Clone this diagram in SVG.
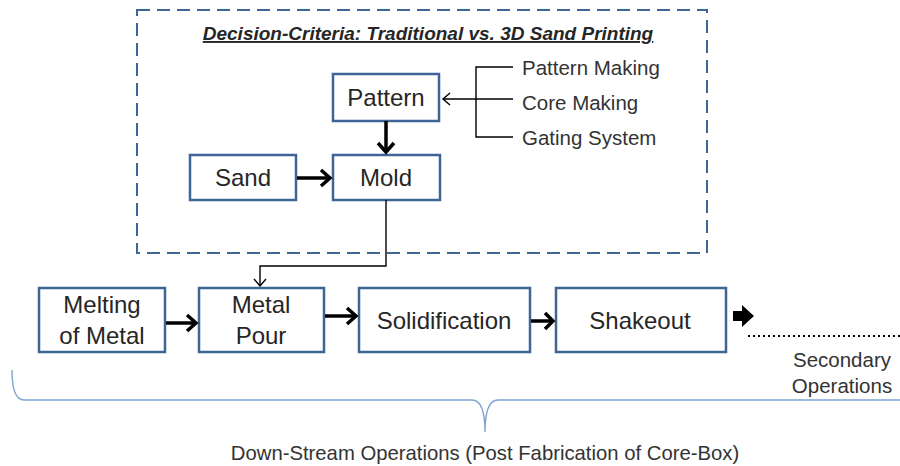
<svg xmlns="http://www.w3.org/2000/svg" width="900" height="466" viewBox="0 0 900 466">
  <style>
    .box { fill: #ffffff; stroke: #3f6596; stroke-width: 2.5; }
    .lbl { font-family: "Liberation Sans", Arial, sans-serif; font-size: 24px; fill: #262626; text-anchor: middle; }
    .sm { font-family: "Liberation Sans", Arial, sans-serif; font-size: 20.5px; fill: #333333; }
    .thick { fill: none; stroke: #000000; stroke-width: 3.5; stroke-linejoin: miter; }
    .thin { fill: none; stroke: #000000; stroke-width: 1.4; }
  </style>

  <!-- decision-criteria frame -->
  <g id="frame">
    <rect x="137" y="10" width="570" height="243" fill="none" stroke="#3f6596" stroke-width="2" stroke-dasharray="13 7"/>
    <text x="428" y="40" font-family="Liberation Sans, Arial, sans-serif" font-size="19px" font-weight="bold" font-style="italic" fill="#262626" text-anchor="middle" text-decoration="underline">Decision-Criteria: Traditional vs. 3D Sand Printing</text>
  </g>

  <g id="pattern">
    <rect class="box" x="333" y="74" width="106" height="47"/>
    <text class="lbl" x="386" y="106">Pattern</text>
  </g>
  <g id="sand">
    <rect class="box" x="190" y="155" width="106" height="45"/>
    <text class="lbl" x="243" y="186">Sand</text>
  </g>
  <g id="mold">
    <rect class="box" x="333" y="155" width="107" height="45"/>
    <text class="lbl" x="386" y="186">Mold</text>
  </g>

  <g id="pattern-inputs">
    <text class="sm" x="522" y="75">Pattern Making</text>
    <text class="sm" x="522" y="110">Core Making</text>
    <text class="sm" x="522" y="145">Gating System</text>
  </g>

  <g id="melting">
    <rect class="box" x="39" y="288" width="126" height="64"/>
    <text class="lbl" x="102" y="313">Melting</text>
    <text class="lbl" x="102" y="344">of Metal</text>
  </g>
  <g id="metal-pour">
    <rect class="box" x="199" y="288" width="125" height="64"/>
    <text class="lbl" x="261" y="313">Metal</text>
    <text class="lbl" x="261" y="344">Pour</text>
  </g>
  <g id="solidification">
    <rect class="box" x="359" y="288" width="171" height="64"/>
    <text class="lbl" x="444" y="329">Solidification</text>
  </g>
  <g id="shakeout">
    <rect class="box" x="556" y="288" width="170" height="64"/>
    <text class="lbl" x="640" y="329">Shakeout</text>
  </g>

  <g id="secondary">
    <text class="sm" x="842" y="367" text-anchor="middle">Secondary</text>
    <text class="sm" x="842" y="393" text-anchor="middle">Operations</text>
  </g>

  <g id="downstream">
    <path d="M12,370 Q12,400 24,400 H472 Q485,400 485,432 Q485,400 498,400 H900" fill="none" stroke="#7ea3d3" stroke-width="1.4"/>
    <text x="485" y="460" font-family="Liberation Sans, Arial, sans-serif" font-size="20.3px" fill="#333333" text-anchor="middle">Down-Stream Operations (Post Fabrication of Core-Box)</text>
  </g>

  <g id="connectors">
    <!-- Pattern to Mold -->
    <line class="thick" x1="386" y1="121" x2="386" y2="152"/>
    <polyline class="thick" points="378,143 386,152 394,143"/>
    <!-- Sand to Mold -->
    <line class="thick" x1="297" y1="178" x2="330" y2="178"/>
    <polyline class="thick" points="321,170 330,178 321,186"/>
    <!-- bracket feeding Pattern -->
    <polyline class="thin" points="513,67 476,67 476,137 513,137"/>
    <line class="thin" x1="476" y1="99" x2="513" y2="99"/>
    <line class="thin" x1="476" y1="99" x2="443" y2="99"/>
    <polyline class="thin" points="450,93 443,99 450,105"/>
    <!-- Mold to Metal Pour -->
    <polyline class="thin" points="386,200 386,266 260,266 260,286"/>
    <polyline class="thin" points="254,279 260,286 266,279"/>
    <!-- bottom chain -->
    <line class="thick" x1="166" y1="323" x2="196" y2="323"/>
    <polyline class="thick" points="187,315 196,323 187,331"/>
    <line class="thick" x1="325" y1="316" x2="356" y2="316"/>
    <polyline class="thick" points="347,308 356,316 347,324"/>
    <line class="thick" x1="531" y1="321" x2="553" y2="321"/>
    <polyline class="thick" points="545,313 553,321 545,329"/>
    <!-- to secondary operations -->
    <polygon points="733,311 742,311 742,305 754,316 742,327 742,321 733,321" fill="#000000"/>
    <line x1="748" y1="336" x2="900" y2="336" stroke="#000000" stroke-width="2.2" stroke-dasharray="2 3"/>
  </g>
</svg>
